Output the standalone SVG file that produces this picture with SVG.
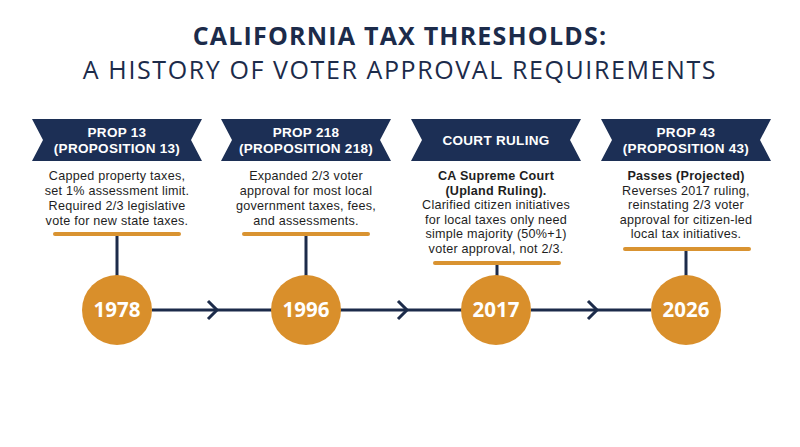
<svg xmlns="http://www.w3.org/2000/svg" width="800" height="447" viewBox="0 0 800 447">
<style>
.title{font-family:"Open Sans","Liberation Sans",sans-serif;fill:#1c2b4a;text-anchor:middle}
.ban{fill:#1c2f55}
.bt{font-family:"Liberation Sans",Arial,sans-serif;font-weight:700;font-size:13.5px;letter-spacing:0.3px;fill:#ffffff;text-anchor:middle}
.body{font-family:"Liberation Sans",Arial,sans-serif;font-size:12.6px;letter-spacing:0.25px;fill:#1e1e1e;text-anchor:middle}
.b{font-weight:700}
.bar{stroke:#d99331;stroke-width:4;stroke-linecap:round}
.conn{stroke:#1c2b4a;stroke-width:3;fill:none}
.dot{fill:#d98f2b}
.yr{font-family:"Open Sans","Liberation Sans",sans-serif;font-weight:700;font-size:20.5px;fill:#ffffff;text-anchor:middle}
</style>
<defs>
<path id="ribbon" d="M-85,-21 H85 L74,0 L85,21 H-85 L-74,0 Z"/>
</defs>
<rect width="800" height="447" fill="#ffffff"/>
<g id="title">
<text class="title" x="400" y="45" font-size="25" font-weight="700" letter-spacing="1.2">CALIFORNIA TAX THRESHOLDS:</text>
<text class="title" x="400" y="79" font-size="25" letter-spacing="1.6">A HISTORY OF VOTER APPROVAL REQUIREMENTS</text>
</g>
<g id="connectors">
<line class="conn" x1="152" y1="310" x2="462" y2="310"/>
<line class="conn" x1="531" y1="310" x2="651" y2="310"/>
<polyline class="conn" points="208,301 217,310 208,319"/>
<polyline class="conn" points="398,301 407,310 398,319"/>
<polyline class="conn" points="588,301 597,310 588,319"/>
<line class="conn" x1="117" y1="235" x2="117" y2="276"/>
<line class="conn" x1="306" y1="235" x2="306" y2="276"/>
<line class="conn" x1="497" y1="264" x2="497" y2="276"/>
<line class="conn" x1="686" y1="250" x2="686" y2="276"/>
</g>
<g id="node-1978">
<use href="#ribbon" class="ban" x="117" y="140"/>
<text class="bt" x="117" y="137">PROP 13<tspan x="117" y="153">(PROPOSITION 13)</tspan></text>
<text class="body" x="117" y="180">Capped property taxes,<tspan x="117" y="195">set 1% assessment limit.</tspan><tspan x="117" y="210">Required 2/3 legislative</tspan><tspan x="117" y="225">vote for new state taxes.</tspan></text>
<line class="bar" x1="55" y1="234" x2="179" y2="234"/>
<circle class="dot" cx="117" cy="310" r="35"/>
<text class="yr" x="117" y="317">1978</text>
</g>
<g id="node-1996">
<use href="#ribbon" class="ban" x="306" y="140"/>
<text class="bt" x="306" y="137">PROP 218<tspan x="306" y="153">(PROPOSITION 218)</tspan></text>
<text class="body" x="306" y="180">Expanded 2/3 voter<tspan x="306" y="195">approval for most local</tspan><tspan x="306" y="210">government taxes, fees,</tspan><tspan x="306" y="225">and assessments.</tspan></text>
<line class="bar" x1="244" y1="234" x2="368" y2="234"/>
<circle class="dot" cx="306" cy="310" r="35"/>
<text class="yr" x="306" y="317">1996</text>
</g>
<g id="node-2017">
<use href="#ribbon" class="ban" x="496" y="140"/>
<text class="bt" x="496" y="145">COURT RULING</text>
<text class="body" x="496" y="180"><tspan class="b">CA Supreme Court</tspan><tspan class="b" x="496" y="194.5">(Upland Ruling).</tspan><tspan x="496" y="209">Clarified citizen initiatives</tspan><tspan x="496" y="223.5">for local taxes only need</tspan><tspan x="496" y="238">simple majority (50%+1)</tspan><tspan x="496" y="252.5">voter approval, not 2/3.</tspan></text>
<line class="bar" x1="435" y1="263" x2="559" y2="263"/>
<circle class="dot" cx="496" cy="310" r="35"/>
<text class="yr" x="496" y="317">2017</text>
</g>
<g id="node-2026">
<use href="#ribbon" class="ban" x="686" y="140"/>
<text class="bt" x="686" y="137">PROP 43<tspan x="686" y="153">(PROPOSITION 43)</tspan></text>
<text class="body" x="686" y="180"><tspan class="b">Passes (Projected)</tspan><tspan x="686" y="194.5">Reverses 2017 ruling,</tspan><tspan x="686" y="209">reinstating 2/3 voter</tspan><tspan x="686" y="223.5">approval for citizen-led</tspan><tspan x="686" y="238">local tax initiatives.</tspan></text>
<line class="bar" x1="625" y1="249" x2="749" y2="249"/>
<circle class="dot" cx="686" cy="310" r="35"/>
<text class="yr" x="686" y="317">2026</text>
</g>
</svg>
